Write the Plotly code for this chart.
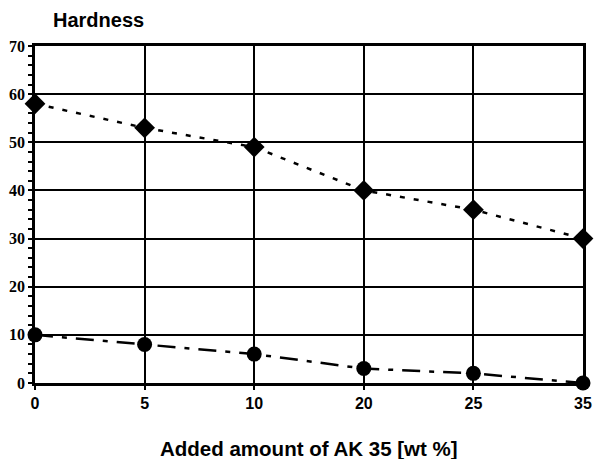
import plotly.graph_objects as go

categories = ["0", "5", "10", "20", "25", "35"]
hardness_upper = [58, 53, 49, 40, 36, 30]
hardness_lower = [10, 8, 6, 3, 2, 0]

fig = go.Figure()
fig.add_trace(go.Scatter(
    x=categories, y=hardness_upper, mode="lines+markers",
    line=dict(color="black", width=2.5, dash="5px,9px"),
    marker=dict(symbol="diamond", size=16, color="black"),
    cliponaxis=False, showlegend=False))
fig.add_trace(go.Scatter(
    x=categories, y=hardness_lower, mode="lines+markers",
    line=dict(color="black", width=2.5, dash="18px,9px,5px,9px"),
    marker=dict(symbol="circle", size=15, color="black"),
    cliponaxis=False, showlegend=False))

fig.update_layout(
    width=594, height=459,
    margin=dict(l=35, r=11, t=46, b=76),
    paper_bgcolor="white", plot_bgcolor="white",
    xaxis=dict(type="category", range=[0, 5],
               showgrid=True, gridcolor="black", gridwidth=2,
               showline=True, linecolor="black", linewidth=2.5, mirror=True,
               ticks="outside", ticklen=4, tickwidth=2, tickcolor="black",
               tickfont=dict(family="Liberation Sans", size=16, color="black", weight="bold"),
               automargin=False, zeroline=False),
    yaxis=dict(range=[0, 70], dtick=10,
               showgrid=True, gridcolor="black", gridwidth=2,
               showline=True, linecolor="black", linewidth=2.5, mirror=True,
               ticks="outside", ticklen=4, tickwidth=2, tickcolor="black",
               minor=dict(dtick=2, ticks="outside", ticklen=4, tickwidth=2, tickcolor="black", showgrid=False),
               tickfont=dict(family="Liberation Serif", size=16, color="black", weight="bold"),
               automargin=False, zeroline=False),
    annotations=[
        dict(text="Hardness", xref="paper", yref="paper",
             x=0.0, y=1.0, xshift=63, yshift=26, xanchor="center", yanchor="middle",
             showarrow=False,
             font=dict(family="Liberation Sans", size=20, color="black", weight="bold")),
        dict(text="Added amount of AK 35 [wt %]", xref="paper", yref="paper",
             x=0.5, y=0.0, yshift=-65, xanchor="center", yanchor="middle",
             showarrow=False,
             font=dict(family="Liberation Sans", size=20.5, color="black", weight="bold")),
    ],
)

# remove the default page margin so the figure fills the window exactly
fig.write_html("out.html",
               config={"displayModeBar": False},
               post_script="document.body.style.margin='0';document.body.style.overflow='hidden';")
